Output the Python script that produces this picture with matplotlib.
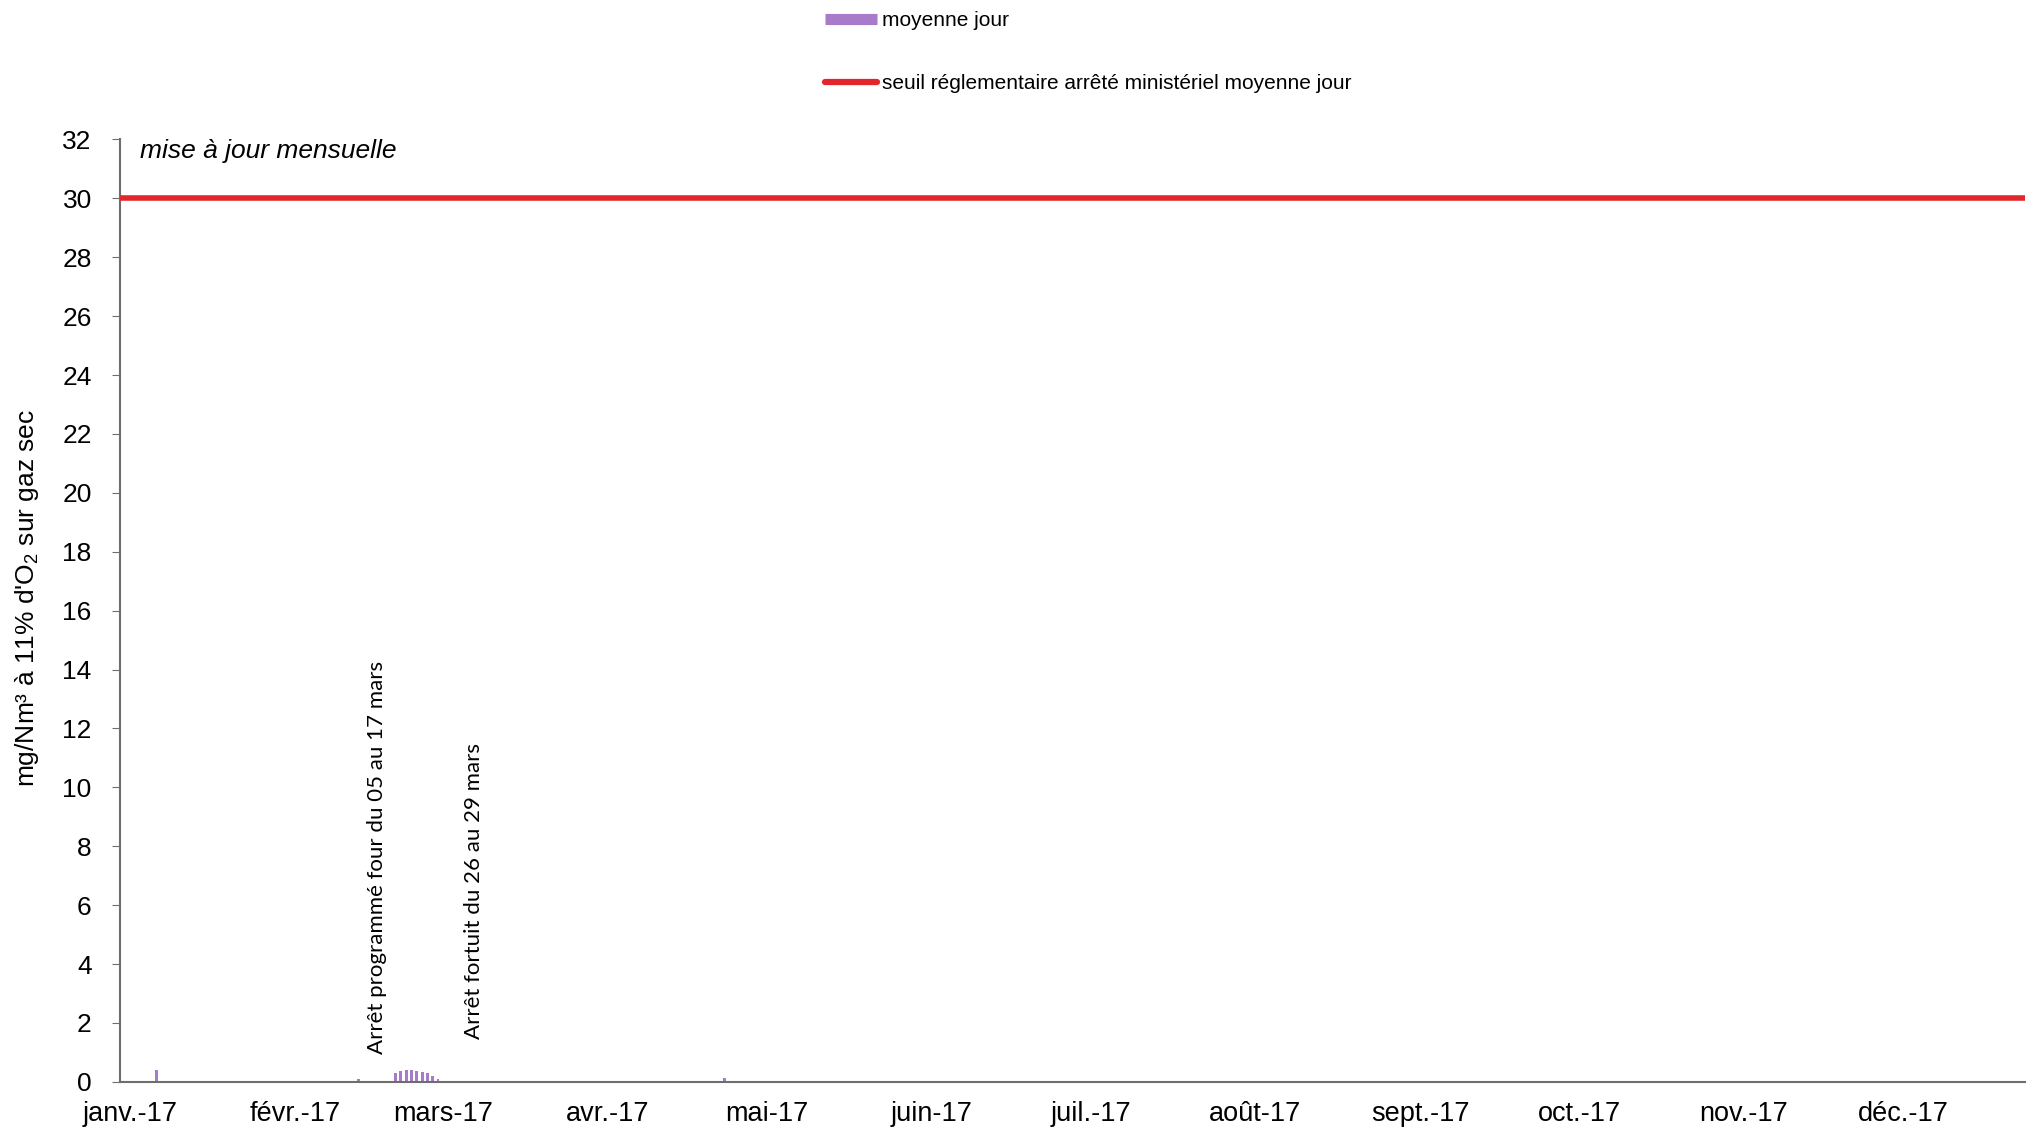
import matplotlib
matplotlib.use('Agg')
import matplotlib.pyplot as plt
from matplotlib.lines import Line2D

plt.rcParams['font.family'] = ['Liberation Sans', 'DejaVu Sans']
plt.rcParams['mathtext.fontset'] = 'custom'
plt.rcParams['mathtext.rm'] = 'Liberation Sans'
plt.rcParams['mathtext.default'] = 'regular'

# daily means (day of year, 0 = 1 Jan)
days = [5, 43, 50, 51, 52, 53, 54, 55, 56, 57, 58, 112]
values = [0.4, 0.1, 0.3, 0.38, 0.4, 0.4, 0.38, 0.35, 0.3, 0.2, 0.1, 0.12]
threshold = 30
month_starts = [0, 31, 59, 90, 120, 151, 181, 212, 243, 273, 304, 334]
month_labels = ['janv.-17', 'févr.-17', 'mars-17', 'avr.-17', 'mai-17', 'juin-17',
                'juil.-17', 'août-17', 'sept.-17', 'oct.-17', 'nov.-17', 'déc.-17']
yticks = list(range(0, 33, 2))

purple = '#a77bc9'
red = '#e3262b'
grey = '#6e6e6e'

fig = plt.figure(figsize=(20.36, 11.34), dpi=100, facecolor='white')
ax = fig.add_axes([0.0587, 0.046, 0.936, 0.831])

ax.bar(days, values, width=0.55, color=purple, zorder=2)
ax.axhline(threshold, color=red, lw=4, zorder=3)

ax.set_xlim(-2, 357)
ax.set_ylim(0, 32)
ax.spines['top'].set_visible(False)
ax.spines['right'].set_visible(False)
ax.spines['left'].set_color(grey)
ax.spines['bottom'].set_color(grey)
ax.spines['left'].set_linewidth(1.5)
ax.spines['bottom'].set_linewidth(1.5)

ax.set_yticks(yticks)
ax.set_yticklabels([str(t) for t in yticks], fontsize=19)
ax.tick_params(axis='y', length=6, color=grey, pad=14)
ax.set_xticks(month_starts)
ax.set_xticklabels(month_labels, fontsize=19.5)
ax.tick_params(axis='x', length=0, pad=14)

ax.text(0.011, 0.988, 'mise à jour mensuelle', transform=ax.transAxes,
        fontsize=19, style='italic', va='center', ha='left')

ax.text(46.5, 0.93, 'Arrêt programmé four du 05 au 17 mars', rotation=90,
        ha='center', va='bottom', fontsize=16, family=['Lato', 'DejaVu Sans'])
ax.text(64.8, 1.46, 'Arrêt fortuit du 26 au 29 mars', rotation=90,
        ha='center', va='bottom', fontsize=16, family=['Lato', 'DejaVu Sans'])

fig.text(0.0135, 0.473, "mg/Nm³ à 11% d'O$_2$ sur gaz sec", rotation=90,
         ha='center', va='center', fontsize=19)

handles = [Line2D([0], [0], color=purple, lw=8, solid_capstyle='butt'),
           Line2D([0], [0], color=red, lw=4.5, solid_capstyle='round')]
fig.legend(handles, ['moyenne jour', 'seuil réglementaire arrêté ministériel moyenne jour'],
           loc='upper left', bbox_to_anchor=(0.405, 0.99), frameon=False,
           fontsize=15, handlelength=2.5, handletextpad=0.25, labelspacing=2.1,
           borderpad=0, borderaxespad=0)

fig.savefig('out.png', dpi=100, facecolor='white')
